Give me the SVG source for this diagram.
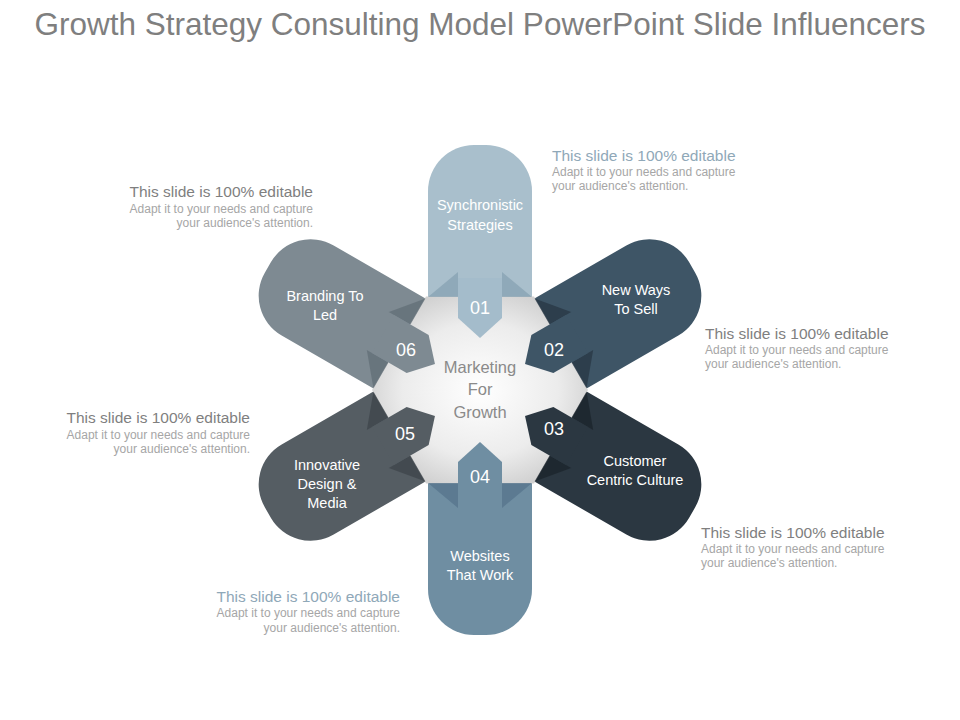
<svg xmlns="http://www.w3.org/2000/svg" width="960" height="720" viewBox="0 0 960 720">
<style>
text{font-family:"Liberation Sans",Arial,sans-serif}
.title{font-size:31.5px;fill:#7f7f7f}
.h{font-size:15.5px;fill:#7f7f7f}
.hb{font-size:15.5px;fill:#8fa8b8}
.s{font-size:12px;fill:#a6a6a6}
.lab{font-size:14.5px;fill:#fff;text-anchor:middle}
.num{font-size:18px;fill:#fff;text-anchor:middle}
.ctr{font-size:16.5px;fill:#8a8a8a;text-anchor:middle}
.r{text-anchor:end}
</style>
<defs>
<radialGradient id="hg" cx="0.5" cy="0.5" r="0.6">
<stop offset="0" stop-color="#ffffff"/><stop offset="0.6" stop-color="#ececec"/><stop offset="1" stop-color="#c9c9c9"/>
</radialGradient>
<rect id="arm" x="-52" y="-245" width="104" height="245" rx="46"/>
<path id="arrow" d="M-22,-112 L22,-112 L22,-72 L0,-52 L-22,-72 Z"/>
<path id="sh" d="M-22,-93 L-52,-93 L-22,-118 Z M22,-93 L52,-93 L22,-118 Z"/>
</defs>
<rect width="960" height="720" fill="#fff"/>
<text class="title" x="480" y="35" text-anchor="middle">Growth Strategy Consulting Model PowerPoint Slide Influencers</text>
<g id="arms" transform="translate(480,390)">
<use href="#arm" fill="#a9bfcc"/>
<use href="#arm" fill="#3e5566" transform="rotate(60)"/>
<use href="#arm" fill="#2b3741" transform="rotate(120)"/>
<use href="#arm" fill="#6f8ea2" transform="rotate(180)"/>
<use href="#arm" fill="#555d63" transform="rotate(240)"/>
<use href="#arm" fill="#7e8a92" transform="rotate(300)"/>
</g>
<g id="center" transform="translate(480,390)">
<polygon points="-54,-93.5 54,-93.5 108,0 54,93.5 -54,93.5 -108,0" fill="url(#hg)"/>
<text class="ctr" x="0" y="-17">Marketing</text>
<text class="ctr" x="0" y="5">For</text>
<text class="ctr" x="0" y="28">Growth</text>
</g>
<g id="n01" transform="translate(480,390)">
<use href="#sh" fill="#7f9bab" opacity="0.6"/><use href="#arrow" fill="#a4bccb"/>
<text class="num" x="0" y="-76">01</text>
<text class="lab" x="0" y="-180">Synchronistic</text><text class="lab" x="0" y="-160">Strategies</text>
</g>
<g id="n02" transform="translate(480,390)">
<g transform="rotate(60)"><use href="#sh" fill="#263541" opacity="0.7"/><use href="#arrow" fill="#3e5566"/></g>
<text class="num" x="74" y="-34">02</text>
<text class="lab" x="156" y="-95">New Ways</text><text class="lab" x="156" y="-76">To Sell</text>
</g>
<g id="n03" transform="translate(480,390)">
<g transform="rotate(120)"><use href="#sh" fill="#1a222a" opacity="0.7"/><use href="#arrow" fill="#2b3741"/></g>
<text class="num" x="74" y="45">03</text>
<text class="lab" x="155" y="76">Customer</text><text class="lab" x="155" y="95">Centric Culture</text>
</g>
<g id="n04" transform="translate(480,390)">
<g transform="rotate(180)"><use href="#sh" fill="#54728a" opacity="0.7"/><use href="#arrow" fill="#6f8ea2"/></g>
<text class="num" x="0" y="93">04</text>
<text class="lab" x="0" y="171">Websites</text><text class="lab" x="0" y="190">That Work</text>
</g>
<g id="n05" transform="translate(480,390)">
<g transform="rotate(240)"><use href="#sh" fill="#3c4348" opacity="0.7"/><use href="#arrow" fill="#555d63"/></g>
<text class="num" x="-75" y="50">05</text>
<text class="lab" x="-153" y="80">Innovative</text><text class="lab" x="-153" y="99">Design &amp;</text><text class="lab" x="-153" y="118">Media</text>
</g>
<g id="n06" transform="translate(480,390)">
<g transform="rotate(300)"><use href="#sh" fill="#606c75" opacity="0.7"/><use href="#arrow" fill="#7e8a92"/></g>
<text class="num" x="-74" y="-34">06</text>
<text class="lab" x="-155" y="-89">Branding To</text><text class="lab" x="-155" y="-70">Led</text>
</g>
<g id="notes">
<text class="h r" x="313" y="197">This slide is 100% editable</text>
<text class="s r" x="313" y="213">Adapt it to your needs and capture</text>
<text class="s r" x="313" y="227">your audience's attention.</text>
<text class="hb" x="552" y="161">This slide is 100% editable</text>
<text class="s" x="552" y="176">Adapt it to your needs and capture</text>
<text class="s" x="552" y="190">your audience's attention.</text>
<text class="h" x="705" y="339">This slide is 100% editable</text>
<text class="s" x="705" y="354">Adapt it to your needs and capture</text>
<text class="s" x="705" y="368">your audience's attention.</text>
<text class="h r" x="250" y="423">This slide is 100% editable</text>
<text class="s r" x="250" y="439">Adapt it to your needs and capture</text>
<text class="s r" x="250" y="453">your audience's attention.</text>
<text class="h" x="701" y="538">This slide is 100% editable</text>
<text class="s" x="701" y="553">Adapt it to your needs and capture</text>
<text class="s" x="701" y="567">your audience's attention.</text>
<text class="hb r" x="400" y="602">This slide is 100% editable</text>
<text class="s r" x="400" y="617">Adapt it to your needs and capture</text>
<text class="s r" x="400" y="632">your audience's attention.</text>
</g>
<g id="connectors"/>
</svg>
